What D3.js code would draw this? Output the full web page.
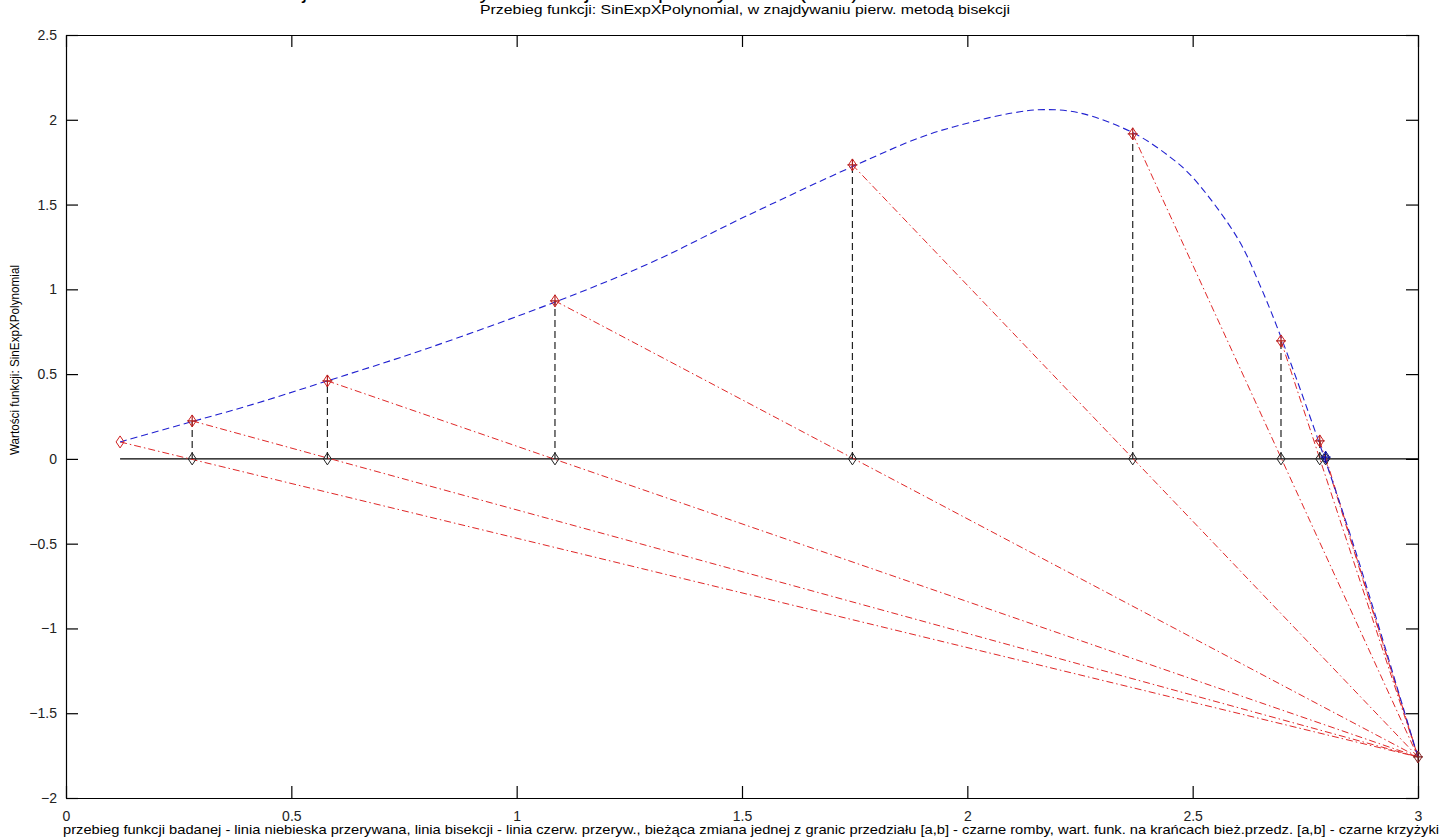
<!DOCTYPE html>
<html>
<head>
<meta charset="utf-8">
<script src="https://cdn.jsdelivr.net/npm/d3@7"></script>
<style>
  body { margin: 0; background: #fff; }
  svg { display: block; font-family: "Liberation Sans", Arial, sans-serif; }
</style>
</head>
<body>
<svg id="graph"></svg>
<script>
// function curve
var curveX = [0.12, 0.28, 0.40, 0.58, 0.80, 1.09, 1.30, 1.50, 1.75, 1.90, 2.00, 2.10, 2.17, 2.25, 2.37, 2.45, 2.50, 2.60, 2.65, 2.70, 2.78, 2.85, 2.92, 3.00];
var curveY = [0.10, 0.22, 0.31, 0.46, 0.65, 0.93, 1.16, 1.42, 1.73, 1.90, 1.98, 2.04, 2.06, 2.04, 1.92, 1.78, 1.66, 1.30, 1.02, 0.69, 0.10, -0.45, -1.05, -1.76];

// successive points of the method (x, f(x)), fixed end b
var iterX = [0.12, 0.28, 0.58, 1.085, 1.745, 2.367, 2.696, 2.782, 2.795];
var iterY = [0.10, 0.224, 0.46, 0.932, 1.734, 1.917, 0.696, 0.106, 0.01];
var endB = [3.0, -1.758];

var xTicks = [0, 0.5, 1, 1.5, 2, 2.5, 3];
var yTicks = [-2, -1.5, -1, -0.5, 0, 0.5, 1, 1.5, 2, 2.5];

var titleText = "Przebieg funkcji: SinExpXPolynomial, w znajdywaniu pierw. metodą bisekcji";
var xLabel = "przebieg funkcji badanej - linia niebieska przerywana, linia bisekcji - linia czerw. przeryw., bieżąca zmiana jednej z granic przedziału [a,b] - czarne romby, wart. funk. na krańcach bież.przedz. [a,b] - czarne krzyżyki";
var yLabel = "Wartości funkcji: SinExpXPolynomial";

var W = 1445, H = 838;
var margin = { top: 35, right: 27, bottom: 40, left: 66 };
var width = W - margin.left - margin.right, height = H - margin.top - margin.bottom;

var root = d3.select("#graph").attr("width", W).attr("height", H);
root.append("rect").attr("width", W).attr("height", H).attr("fill", "#fff");

// cut-off page heading at the very top
root.append("text")
  .attr("x", 545).attr("y", -2)
  .style("text-anchor", "middle").style("font-size", "22px")
  .text("Ilustracja działania metody dla funkcji SinExpXPolynomial ( X 3 )");
root.append("text")
  .attr("x", 1440).attr("y", -1)
  .style("text-anchor", "end").style("font-size", "22px")
  .text("22");

var svg = root.append("g")
  .attr("transform", "translate(" + margin.left + "," + margin.top + ")");

var x = d3.scaleLinear().domain([0, 3]).range([0, width]);
var y = d3.scaleLinear().domain([-2, 2.5]).range([height, 0]);

// axes box, inward ticks on all four sides
var tk = 12;
svg.append("g").attr("transform", "translate(0," + height + ")")
  .call(d3.axisBottom(x).tickValues(xTicks).tickSizeInner(-tk).tickSizeOuter(0).tickPadding(tk + 1).tickFormat(d3.format("")));
svg.append("g").attr("transform", "translate(0,0)")
  .call(d3.axisTop(x).tickValues(xTicks).tickSizeInner(-tk).tickSizeOuter(0).tickFormat(""));
svg.append("g")
  .call(d3.axisLeft(y).tickValues(yTicks).tickSizeInner(-tk).tickSizeOuter(0).tickPadding(tk - 3).tickFormat(d3.format("")));
svg.append("g").attr("transform", "translate(" + width + ",0)")
  .call(d3.axisRight(y).tickValues(yTicks).tickSizeInner(-tk).tickSizeOuter(0).tickFormat(""));
svg.selectAll(".domain, .tick line").attr("stroke", "#000").attr("stroke-width", 1.2);
svg.selectAll(".tick text").style("font-size", "14px").attr("fill", "#222");

// zero line
svg.append("line")
  .attr("x1", x(iterX[0])).attr("x2", x(endB[0]))
  .attr("y1", y(0)).attr("y2", y(0))
  .attr("stroke", "#000").attr("stroke-width", 1.2);

// red secant lines from each point to the fixed end
svg.append("g").selectAll("line").data(iterX).enter().append("line")
  .attr("x1", d => x(d))
  .attr("y1", (d, i) => y(iterY[i]))
  .attr("x2", x(endB[0])).attr("y2", y(endB[1]))
  .attr("stroke", "#e02828").attr("stroke-width", 1)
  .attr("stroke-dasharray", "7,3,1.5,3");

// black dashed verticals
svg.append("g").selectAll("line").data(iterX.slice(1, 8)).enter().append("line")
  .attr("x1", d => x(d)).attr("x2", d => x(d))
  .attr("y1", y(0))
  .attr("y2", (d, i) => y(iterY[i + 1]))
  .attr("stroke", "#222").attr("stroke-width", 1.2)
  .attr("stroke-dasharray", "7,4");

// function curve, blue dashed
var line = d3.line()
  .x((d, i) => x(curveX[i]))
  .y(d => y(d))
  .curve(d3.curveCatmullRom.alpha(0.5));
svg.append("path").datum(curveY)
  .attr("d", line)
  .attr("fill", "none").attr("stroke", "#2020d0").attr("stroke-width", 1.1)
  .attr("stroke-dasharray", "7,4");

function diamond(sel, color) {
  sel.attr("d", "M0,-6L4,0L0,6L-4,0Z").attr("fill", "none").attr("stroke", color).attr("stroke-width", 1);
}
function cross(sel, color) {
  sel.attr("d", "M-5,0H5M0,-6V6").attr("fill", "none").attr("stroke", color).attr("stroke-width", 1.2);
}

// black diamonds on the zero line
svg.append("g").selectAll("path").data(iterX.slice(1)).enter().append("path")
  .attr("transform", d => "translate(" + x(d) + "," + y(0) + ")")
  .call(diamond, "#222");

// points on the curve
svg.append("g").selectAll("path").data(iterX.slice(0, 8)).enter().append("path")
  .attr("transform", (d, i) => "translate(" + x(d) + "," + y(iterY[i]) + ")")
  .call(diamond, "#d02020");
svg.append("g").selectAll("path").data(iterX.slice(1, 8)).enter().append("path")
  .attr("transform", (d, i) => "translate(" + x(d) + "," + y(iterY[i + 1]) + ")")
  .call(cross, "#b02020");

// fixed end b
svg.append("path").attr("transform", "translate(" + x(endB[0]) + "," + y(endB[1]) + ")").call(diamond, "#802020");
svg.append("path").attr("transform", "translate(" + x(endB[0]) + "," + y(endB[1]) + ")").call(cross, "#802020");

// final root estimate, blue
var last = iterX.length - 1;
svg.append("path").attr("transform", "translate(" + x(iterX[last]) + "," + y(iterY[last]) + ")").call(diamond, "#1010a0");
svg.append("path").attr("transform", "translate(" + x(iterX[last]) + "," + y(iterY[last]) + ")").call(cross, "#1010a0");

// title and labels
svg.append("text")
  .attr("x", 745 - margin.left).attr("y", -21)
  .attr("textLength", 530).attr("lengthAdjust", "spacingAndGlyphs")
  .style("text-anchor", "middle").style("font-size", "13.5px")
  .text(titleText);

svg.append("text")
  .attr("x", 751 - margin.left).attr("y", height + 36)
  .attr("textLength", 1376).attr("lengthAdjust", "spacingAndGlyphs")
  .style("text-anchor", "middle").style("font-size", "13px")
  .text(xLabel);

svg.append("text")
  .attr("transform", "translate(" + (-47) + "," + (360 - margin.top) + ") rotate(-90)")
  .attr("textLength", 190).attr("lengthAdjust", "spacingAndGlyphs")
  .style("text-anchor", "middle").style("font-size", "13px")
  .text(yLabel);
</script>
</body>
</html>
